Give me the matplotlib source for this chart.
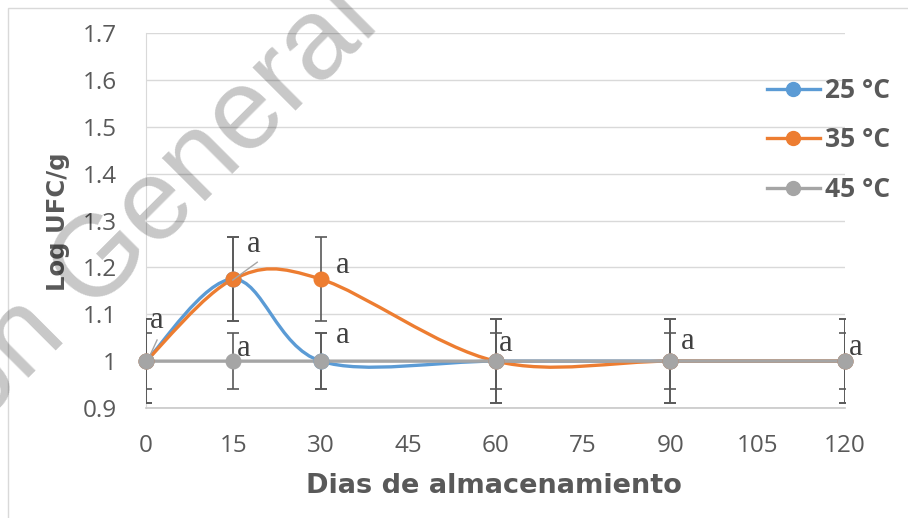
import matplotlib
matplotlib.use("Agg")
import numpy as np
import matplotlib.pyplot as plt
from matplotlib.path import Path
from matplotlib.patches import PathPatch, Rectangle
from matplotlib.lines import Line2D
from matplotlib.ticker import FuncFormatter

# Data
dias = [0, 15, 30, 60, 90, 120]
ufc_25 = [1.0, 1.175, 1.0, 1.0, 1.0, 1.0]
ufc_35 = [1.0, 1.175, 1.175, 1.0, 1.0, 1.0]
ufc_45 = [1.0, 1.0, 1.0, 1.0, 1.0, 1.0]
err_25 = [0.09, 0.09, 0.06, 0.09, 0.09, 0.09]
err_35 = [0.09, 0.09, 0.09, 0.09, 0.09, 0.09]
err_45 = [0.06, 0.06, 0.06, 0.06, 0.06, 0.06]
nombres = ["25 °C", "35 °C", "45 °C"]
colores = ["#5B9BD5", "#ED7D31", "#A5A5A5"]

# significance letters (data coords) and their leader lines
letra_x = [1.9, 18.5, 16.7, 33.8, 33.8, 61.8, 93.0, 121.9]
letra_y = [1.086, 1.248, 1.028, 1.203, 1.054, 1.037, 1.041, 1.030]
letras = ["a", "a", "a", "a", "a", "a", "a", "a"]
guia_x = [[0.3, 1.9], [14.9, 19.1]]
guia_y = [[1.002, 1.045], [1.173, 1.211]]

y_ticks = [0.9, 1.0, 1.1, 1.2, 1.3, 1.4, 1.5, 1.6, 1.7]
x_ticks = [0, 15, 30, 45, 60, 75, 90, 105, 120]


def smooth_path(x, y):
    """Excel-like smoothed line as cubic Bezier segments"""
    pts = np.column_stack([x, y]).astype(float)
    n = len(pts)
    verts = [pts[0]]
    codes = [Path.MOVETO]
    for i in range(n - 1):
        p0 = pts[max(i - 1, 0)]
        p1 = pts[i]
        p2 = pts[i + 1]
        p3 = pts[min(i + 2, n - 1)]
        verts += [p1 + (p2 - p0) / 6, p2 - (p3 - p1) / 6, p2]
        codes += [Path.CURVE4] * 3
    return Path(verts, codes)


fig = plt.figure(figsize=(9.08, 5.18), dpi=100)
ax = fig.add_axes([146 / 908, 1 - 408 / 518, 699 / 908, 375 / 518])

txt = "#595959"
for vals, errs, col in zip([ufc_25, ufc_35, ufc_45], [err_25, err_35, err_45], colores):
    ax.errorbar(dias, vals, yerr=errs, fmt="none", ecolor=txt, elinewidth=1.2,
                capsize=4.5, capthick=1.2, zorder=3)
    ax.add_patch(PathPatch(smooth_path(dias, vals), fill=False, edgecolor=col,
                           lw=2.4, capstyle="round", zorder=4))
    ax.plot(dias, vals, "o", color=col, ms=10.5, clip_on=False, zorder=5)

for gx, gy in zip(guia_x, guia_y):
    ax.plot(gx, gy, color="#A5A5A5", lw=1, zorder=6)
for lx, ly, t in zip(letra_x, letra_y, letras):
    ax.text(lx, ly, t, ha="center", va="center", fontsize=22,
            family="Liberation Serif", color="#404040", zorder=7)

ax.set_xlim(0, 120)
ax.set_ylim(0.9, 1.7)
ax.set_xticks(x_ticks)
ax.set_yticks(y_ticks)
ax.yaxis.set_major_formatter(FuncFormatter(lambda v, p: f"{v:g}"))
ax.grid(axis="y", color="#D9D9D9", lw=1)
ax.set_axisbelow(True)
for s in ["top", "right"]:
    ax.spines[s].set_visible(False)
ax.spines["left"].set_color("#D9D9D9")
ax.spines["bottom"].set_color("#C8C8C8")
ax.spines["bottom"].set_linewidth(1.2)
ax.tick_params(length=0, labelsize=17.5, labelcolor=txt)
ax.tick_params(axis="y", pad=21)
ax.tick_params(axis="x", pad=19)
for lab in ax.get_xticklabels() + ax.get_yticklabels():
    lab.set_family("Open Sans")

fig.text(494 / 908, 1 - 486 / 518, "Dias de almacenamiento", ha="center", va="center",
         fontsize=19.5, fontweight="bold", family="DejaVu Sans", color=txt)
fig.text(58 / 908, 1 - 222 / 518, "Log UFC/g", ha="center", va="center", rotation=90,
         fontsize=17.5, fontweight="bold", family="DejaVu Sans", color=txt)

handles = [Line2D([], [], color=c, lw=2.4, marker="o", ms=10) for c in colores]
leg = ax.legend(handles, nombres, loc="center left", bbox_to_anchor=(767 / 908, 1 - 140 / 518),
                bbox_transform=fig.transFigure, frameon=False, handlelength=2.0,
                handletextpad=0.2, labelspacing=0.85, borderpad=0, borderaxespad=0,
                prop={"family": "Open Sans", "weight": "bold", "size": 19})
for t in leg.get_texts():
    t.set_color(txt)

# outer chart border
fig.patches.append(Rectangle((8 / 908, -0.1), 2, 1.1 - 8 / 518, transform=fig.transFigure,
                             fill=False, ec="#D9D9D9", lw=1))

# watermark
fig.text(186 / 908, 1 - 178 / 518, "ción General de", ha="center", va="center",
         rotation=45, rotation_mode="anchor", fontsize=83, family="Liberation Sans",
         color="black", alpha=0.22, zorder=100)

fig.savefig("out.png", dpi=100)
